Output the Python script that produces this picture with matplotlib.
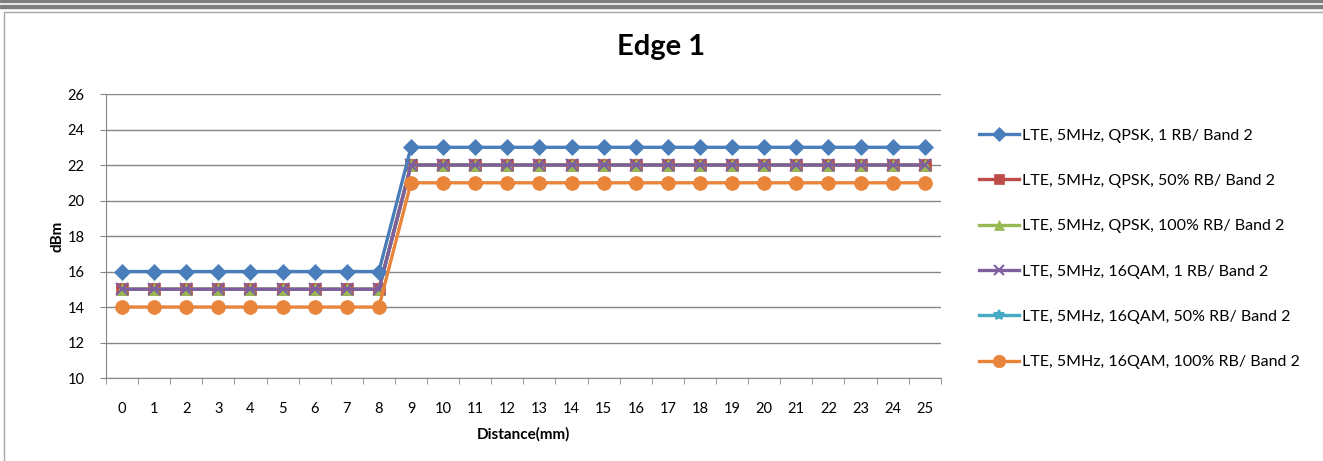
import matplotlib

matplotlib.use("Agg")
import matplotlib.pyplot as plt
from matplotlib.lines import Line2D
from matplotlib.patches import Rectangle

plt.rcParams["font.family"] = ["Lato", "DejaVu Sans"]

distance = list(range(26))
qpsk_1rb = [16] * 9 + [23] * 17
qpsk_50rb = [15] * 9 + [22] * 17
qpsk_100rb = [15] * 9 + [22] * 17
qam16_1rb = [15] * 9 + [22] * 17
qam16_50rb = [15] * 9 + [22] * 17
qam16_100rb = [14] * 9 + [21] * 17

labels = [
    "LTE, 5MHz, QPSK, 1 RB/ Band 2",
    "LTE, 5MHz, QPSK, 50% RB/ Band 2",
    "LTE, 5MHz, QPSK, 100% RB/ Band 2",
    "LTE, 5MHz, 16QAM, 1 RB/ Band 2",
    "LTE, 5MHz, 16QAM, 50% RB/ Band 2",
    "LTE, 5MHz, 16QAM, 100% RB/ Band 2",
]
yticks = [10, 12, 14, 16, 18, 20, 22, 24, 26]

# excel 2007 palette, marker, size, zorder
styles = [
    ("#4A7EBB", "D", 8, 6),
    ("#BE4B48", "s", 8, 3),
    ("#98B954", "^", 8, 4),
    ("#7D5FA0", "x", 8, 5),
    ("#46AAC5", "*", 8, 2),
    ("#E8853B", "o", 10, 7),
]
series = [qpsk_1rb, qpsk_50rb, qpsk_100rb, qam16_1rb, qam16_50rb, qam16_100rb]

fig = plt.figure(figsize=(13.23, 4.61), dpi=100)
ax = fig.add_axes([0.0801, 0.180, 0.631, 0.616])

for vals, lab, (col, mk, ms, z) in zip(series, labels, styles):
    ax.plot(distance, vals, color=col, lw=2.4, marker=mk, ms=ms,
            mew=1.5 if mk in "x*" else 0.5, mec=col, label=lab, zorder=z)

ax.set_xlim(-0.5, 25.5)
ax.set_ylim(10, 26)
ax.set_yticks(yticks)
ax.set_xticks(distance)
ax.set_xticks([i - 0.5 for i in range(27)], minor=True)
ax.tick_params(axis="x", which="major", length=0, pad=17, labelsize=10.5)
ax.tick_params(axis="x", which="minor", length=4.3, color="#868686")
ax.tick_params(axis="y", length=4.3, color="#868686", labelsize=10.5, pad=11)
ax.yaxis.grid(True, color="#868686", lw=1)
ax.set_axisbelow(True)
for s in ["top", "right"]:
    ax.spines[s].set_visible(False)
for s in ["left", "bottom"]:
    ax.spines[s].set_color("#868686")
ax.set_xlabel("Distance(mm)", fontweight="bold", fontsize=11, labelpad=8)
ax.set_ylabel("dBm", fontweight="bold", fontsize=11, labelpad=2)

fig.text(0.4995, 0.897, "Edge 1", ha="center", va="center",
         fontsize=21, fontweight="bold")

handles = [Line2D([], [], color=c, lw=2.4, marker=m, ms=s * 0.9,
                  mew=1.5 if m in "x*" else 0.5, mec=c)
           for c, m, s, _ in styles]
fig.legend(handles, labels, loc="upper left", bbox_to_anchor=(0.735, 0.735),
           frameon=False, fontsize=11.5, handlelength=2.5, handletextpad=0.2,
           labelspacing=1.95, borderaxespad=0)

# worksheet frame around the chart object
fig.patches.append(Rectangle((0, 1 - 2 / 461), 1, 2 / 461, transform=fig.transFigure,
                             color="#7f7f7f", zorder=0))
fig.patches.append(Rectangle((0, 1 - 8 / 461), 1, 2.5 / 461, transform=fig.transFigure,
                             color="#7f7f7f", zorder=0))
fig.patches.append(Rectangle((3.5 / 1323, -0.1), 1.2, 1 - 12 / 461 + 0.1,
                             transform=fig.transFigure, fill=False,
                             ec="#a6a6a6", lw=1, zorder=0))

fig.savefig("out.png", dpi=100)
